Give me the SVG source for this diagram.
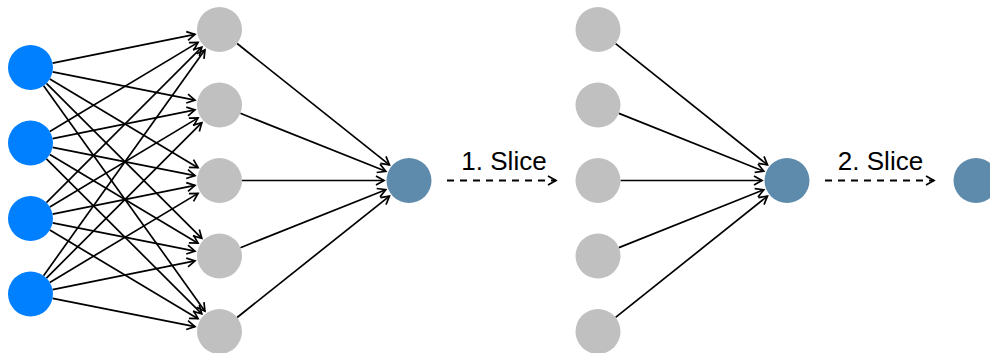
<svg xmlns="http://www.w3.org/2000/svg" width="990" height="353" viewBox="0 0 990 353">
  <style>
    .input { fill: #0080FF; }
    .hidden { fill: #C0C0C0; }
    .output { fill: #5E8BAC; }
    .edge { fill: none; stroke: #000; stroke-width: 1.7; marker-end: url(#open); }
    .slice { fill: none; stroke: #000; stroke-width: 2; stroke-dasharray: 7 6; marker-end: url(#open); }
    .label { font-family: "Liberation Sans", Arial, sans-serif; font-size: 26px; fill: #000; text-anchor: middle; }
  </style>
  <defs>
    <marker id="open" markerUnits="userSpaceOnUse" markerWidth="12" markerHeight="12" refX="9" refY="5" orient="auto" overflow="visible">
      <path d="M1,0.5 L9,5 L1,9.5" fill="none" stroke="#000" stroke-width="1.7"/>
    </marker>
  </defs>

  <!-- connectors -->
  <g id="connectors">
    <!-- input layer to hidden layer -->
    <path class="edge" d="M52.56,63.06 L194.99,34.43"/>
    <path class="edge" d="M52.57,71.88 L194.98,100.13"/>
    <path class="edge" d="M49.81,79.05 L198.04,167.67"/>
    <path class="edge" d="M46.43,83.39 L201.80,238.35"/>
    <path class="edge" d="M43.60,85.79 L204.95,311.17"/>

    <path class="edge" d="M49.79,131.42 L198.07,42.37"/>
    <path class="edge" d="M52.56,138.56 L194.99,109.93"/>
    <path class="edge" d="M52.57,147.38 L194.98,175.63"/>
    <path class="edge" d="M49.81,154.55 L198.04,243.17"/>
    <path class="edge" d="M46.43,158.89 L201.80,313.85"/>

    <path class="edge" d="M46.41,202.59 L201.82,47.18"/>
    <path class="edge" d="M49.79,206.92 L198.07,117.87"/>
    <path class="edge" d="M52.56,214.06 L194.99,185.43"/>
    <path class="edge" d="M52.57,222.88 L194.98,251.13"/>
    <path class="edge" d="M49.81,230.05 L198.04,318.67"/>

    <path class="edge" d="M43.58,275.69 L204.96,49.84"/>
    <path class="edge" d="M46.41,278.09 L201.82,122.68"/>
    <path class="edge" d="M49.79,282.42 L198.07,193.37"/>
    <path class="edge" d="M52.56,289.56 L194.99,260.93"/>
    <path class="edge" d="M52.57,298.38 L194.98,326.63"/>

    <!-- hidden layer to output -->
    <path class="edge" d="M237.10,43.52 L389.45,164.92"/>
    <path class="edge" d="M240.40,113.33 L385.78,171.25"/>
    <path class="edge" d="M242,180.5 L384,180.5"/>
    <path class="edge" d="M240.40,247.67 L385.78,189.75"/>
    <path class="edge" d="M237.10,317.48 L389.45,196.08"/>

    <!-- sliced hidden layer to output -->
    <path class="edge" d="M615.58,43.54 L767.47,164.89"/>
    <path class="edge" d="M618.90,113.35 L763.78,171.23"/>
    <path class="edge" d="M620.5,180.5 L762,180.5"/>
    <path class="edge" d="M618.90,247.65 L763.78,189.77"/>
    <path class="edge" d="M615.58,317.46 L767.47,196.11"/>

    <!-- slice steps -->
    <path class="slice" d="M447,180.5 L556,180.5"/>
    <path class="slice" d="M825,180.5 L934,180.5"/>
  </g>

  <g id="label-slice-1"><text class="label" x="504" y="170">1. Slice</text></g>
  <g id="label-slice-2"><text class="label" x="880.5" y="170">2. Slice</text></g>

  <!-- input layer -->
  <g id="in-1"><circle class="input" cx="30.5" cy="67.5" r="22.5"/></g>
  <g id="in-2"><circle class="input" cx="30.5" cy="143" r="22.5"/></g>
  <g id="in-3"><circle class="input" cx="30.5" cy="218.5" r="22.5"/></g>
  <g id="in-4"><circle class="input" cx="30.5" cy="294" r="22.5"/></g>

  <!-- hidden layer -->
  <g id="h1-1"><circle class="hidden" cx="219.5" cy="29.5" r="22.5"/></g>
  <g id="h1-2"><circle class="hidden" cx="219.5" cy="105" r="22.5"/></g>
  <g id="h1-3"><circle class="hidden" cx="219.5" cy="180.5" r="22.5"/></g>
  <g id="h1-4"><circle class="hidden" cx="219.5" cy="256" r="22.5"/></g>
  <g id="h1-5"><circle class="hidden" cx="219.5" cy="331.5" r="22.5"/></g>

  <g id="out-1"><circle class="output" cx="409" cy="180.5" r="22.5"/></g>

  <!-- hidden layer after first slice -->
  <g id="h2-1"><circle class="hidden" cx="598" cy="29.5" r="22.5"/></g>
  <g id="h2-2"><circle class="hidden" cx="598" cy="105" r="22.5"/></g>
  <g id="h2-3"><circle class="hidden" cx="598" cy="180.5" r="22.5"/></g>
  <g id="h2-4"><circle class="hidden" cx="598" cy="256" r="22.5"/></g>
  <g id="h2-5"><circle class="hidden" cx="598" cy="331.5" r="22.5"/></g>

  <g id="out-2"><circle class="output" cx="787" cy="180.5" r="22.5"/></g>

  <!-- single node after second slice -->
  <g id="out-3"><circle class="output" cx="976" cy="180.5" r="22.5"/></g>
</svg>
